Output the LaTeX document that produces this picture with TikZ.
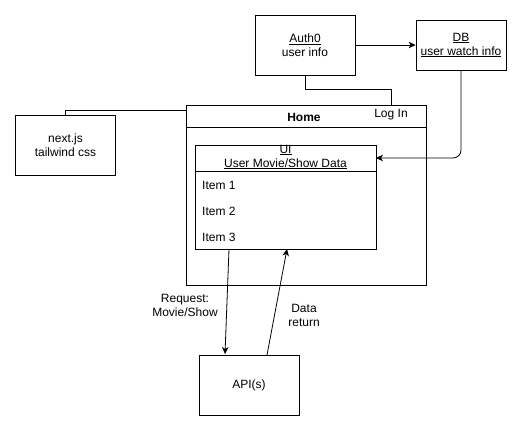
\documentclass[tikz,border=0pt]{standalone}
\usepackage{fontspec}
\setmainfont{Liberation Sans}
\usetikzlibrary{arrows.meta}

\tikzset{
  box/.style={draw, line width=0.8pt, align=center, inner sep=0pt},
  label/.style={align=center, inner sep=0pt},
  link/.style={line width=0.8pt},
  arrow/.style={link, -{Stealth[length=7pt,width=6.5pt,inset=2pt]}},
}

\begin{document}
\begin{tikzpicture}[x=1pt, y=-1pt, font=\fontsize{12}{14}\selectfont]
\useasboundingbox (0,0) rectangle (521,431);

% auth0 and db
\node[box, minimum width=100, minimum height=60] (auth) at (305,45) {\underline{Auth0}\\user info};
\node[box, minimum width=90, minimum height=50] (db) at (461,45) {\underline{DB}\\\underline{user watch info}};
\draw[arrow] (auth) -- (db);

% home page
\node[box, minimum width=240, minimum height=180] (home) at (306,195) {};
\draw[link] (home.north west) ++(0,23) -- ++(240,0);
\node[label, font=\fontsize{12}{14}\selectfont\bfseries] (hometitle) at (304,117) {Home};
\node[label] (login) at (391,115) {Log In};
\coordinate (login in) at (391,105);
\draw[link] (auth.south) -- ++(0,14) -| (login in);

% tooling
\node[box, minimum width=100, minimum height=60] (next) at (65.5,145) {next.js\\tailwind css};
\coordinate (home left) at (186,110);
\draw[link] (next.north) |- (home left);

% ui
\node[box, minimum width=181, minimum height=104] (ui) at (285.5,197) {};
\draw[link] (ui.north west) ++(0,27) -- ++(181,0);
\node[label] (uititle) at (285.5,157) {\underline{UI}\\\underline{User Movie/Show Data}};
\foreach \i/\y in {1/185,2/211,3/237}
  \node[label, anchor=west] (item\i) at (202,\y) {Item \i};
\coordinate (ui in) at (376,158);
\draw[arrow, rounded corners=8pt] (db.south) |- (ui in);

% api
\node[box, minimum width=100, minimum height=60] (api) at (249,385) {API(s)};
\coordinate (req out) at (229,249);
\coordinate (req in) at (225,354);
\coordinate (ret out) at (267,355);
\coordinate (ret in) at (287,249);
\draw[arrow] (req out) -- (req in);
\draw[arrow] (ret out) -- (ret in);
\node[label] (reqlabel) at (185,305) {Request:\\Movie/Show};
\node[label] (retlabel) at (304,315) {Data\\return};

\end{tikzpicture}
\end{document}
